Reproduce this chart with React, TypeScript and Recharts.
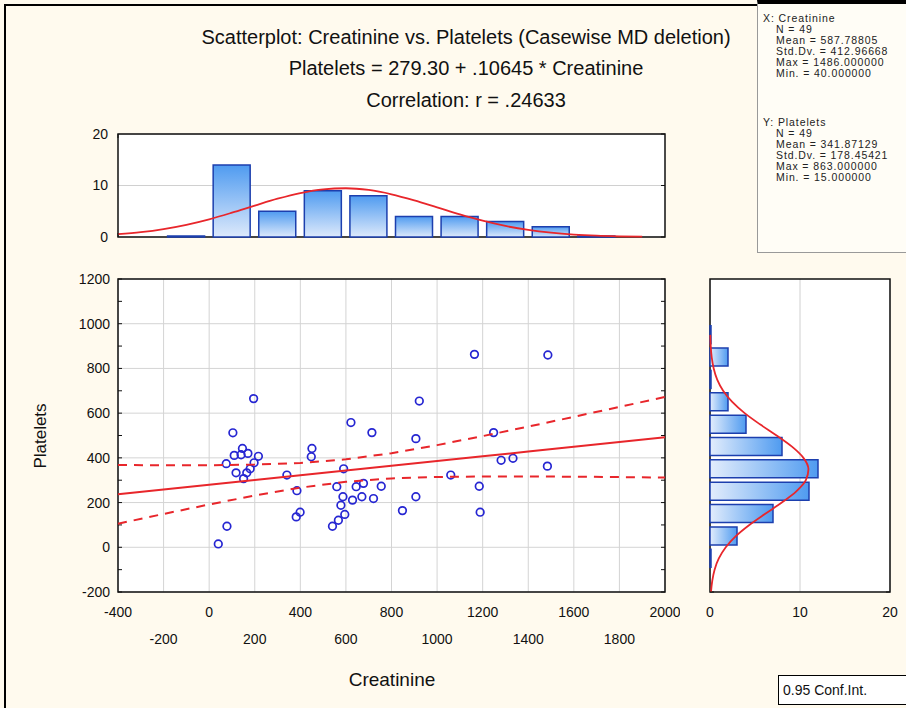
import React from "react";
import {
  ScatterChart,
  Scatter,
  ComposedChart,
  Bar,
  Line,
  XAxis,
  YAxis,
  CartesianGrid,
  ReferenceArea,
} from "recharts";

const FONT = '"Liberation Sans", Arial, sans-serif';

// scatter points (Creatinine, Platelets)
const creatinine = [
  40, 78, 75, 104, 110, 118, 140, 146, 151, 165, 170, 180, 197, 195, 216, 341,
  385, 382, 399, 451, 448, 560, 587, 578, 567, 541, 590, 595, 622, 714, 645,
  677, 755, 629, 670, 721, 922, 907, 907, 848, 1060, 1164, 1185, 1189, 1248,
  1281, 1333, 1486, 1484,
];
const platelets = [
  15, 94, 374, 512, 411, 333, 414, 442, 307, 333, 420, 351, 378, 665, 407, 323,
  253, 136, 157, 442, 405, 271, 226, 188, 121, 94, 351, 147, 558, 513, 271, 286,
  273, 211, 226, 218, 654, 486, 226, 164, 323, 863, 273, 157, 513, 389, 398,
  860, 363,
];

// regression line and 0.95 confidence band
const fitX = [-400, -200, 0, 200, 400, 600, 800, 1000, 1200, 1400, 1600, 1800, 2000];
const fitLine = [236.7, 258.0, 279.3, 300.6, 321.9, 343.2, 364.5, 385.8, 407.0, 428.3, 449.6, 470.9, 492.2];
const upperBand = [367.9, 366.9, 367.1, 369.8, 377.1, 393.3, 421.0, 457.0, 497.3, 539.8, 583.5, 627.8, 672.6];
const lowerBand = [105.5, 149.1, 191.5, 231.4, 266.7, 293.1, 308.0, 314.6, 316.7, 316.8, 315.7, 314.0, 311.8];

// top histogram (Creatinine)
const creatBins = [-100, 100, 300, 500, 700, 900, 1100, 1300, 1500, 1700];
const creatCounts = [0, 14, 5, 9, 8, 4, 4, 3, 2, 0];
const creatCurveX = [
  -400, -300, -200, -100, 0, 100, 200, 300, 400, 500, 600, 700, 800, 900, 1000,
  1100, 1200, 1300, 1400, 1500, 1600, 1700, 1800, 1900,
];
const creatCurve = [
  0.54, 0.94, 1.54, 2.37, 3.44, 4.72, 6.09, 7.43, 8.54, 9.26, 9.47, 9.13, 8.3,
  7.12, 5.76, 4.39, 3.16, 2.14, 1.37, 0.83, 0.47, 0.25, 0.13, 0.06,
];

// right histogram (Platelets)
const platBins = [-50, 50, 150, 250, 350, 450, 550, 650, 750, 850, 950];
const platCounts = [0, 3, 7, 11, 12, 8, 4, 2, 0, 2, 0];
const platCurveY = [
  -200, -150, -100, -50, 0, 50, 100, 150, 200, 250, 300, 350, 400, 450, 500,
  550, 600, 650, 700, 750, 800, 850, 900, 950,
];
const platCurve = [
  0.11, 0.25, 0.51, 0.98, 1.75, 2.87, 4.37, 6.14, 7.98, 9.59, 10.65, 10.94,
  10.38, 9.11, 7.4, 5.55, 3.85, 2.47, 1.46, 0.8, 0.41, 0.19, 0.08, 0.03,
];

const xTicks = [-400, -200, 0, 200, 400, 600, 800, 1000, 1200, 1400, 1600, 1800, 2000];
const yTicks = [-200, 0, 200, 400, 600, 800, 1000, 1200];
const yMinorTicks = [-200, -100, 0, 100, 200, 300, 400, 500, 600, 700, 800, 900, 1000, 1100, 1200];

const points = creatinine.map((x, i) => ({ x, y: platelets[i] }));
const fitRows = fitX.map((x, i) => ({ x, y: fitLine[i] }));
const upperRows = fitX.map((x, i) => ({ x, y: upperBand[i] }));
const lowerRows = fitX.map((x, i) => ({ x, y: lowerBand[i] }));

const topBars = creatBins.map((x, i) => ({ x, count: creatCounts[i] }));
const topCurve = creatCurveX.map((x, i) => ({ x, curve: creatCurve[i] }));
const rightBars = platBins.map((y, i) => ({ y, count: platCounts[i] }));
const rightCurve = platCurveY.map((y, i) => ({ y, curve: platCurve[i] }));

const RED = "#e8262b";
const BLUE_EDGE = "#1c3fae";

const XTick = (props: any) => {
  const { x, y, payload } = props;
  const row = Math.round((payload.value + 400) / 200) % 2;
  return (
    <text x={x} y={y + (row ? 44 : 17)} textAnchor="middle" fontSize={14} fill="#111" fontFamily={FONT}>
      {payload.value}
    </text>
  );
};

const HistXTick = (props: any) => {
  const { x, y, payload } = props;
  return (
    <text x={x} y={y + 17} textAnchor="middle" fontSize={14} fill="#111" fontFamily={FONT}>
      {payload.value}
    </text>
  );
};

const Dot = (props: any) => (
  <circle cx={props.cx} cy={props.cy} r={3.8} fill="none" stroke="#2626d2" strokeWidth={1.7} />
);
const NoDot = () => <g />;
const Blank = () => <g />;

// inward tick marks only (no labels)
const markProps = {
  mirror: true,
  tick: <Blank />,
  tickLine: { stroke: "#111", strokeWidth: 1 },
  tickSize: 4,
  axisLine: false,
  stroke: "#111",
  interval: 0 as const,
  allowDataOverflow: true,
};

const statLine = (text: string, top: number, left: number) => (
  <div
    style={{
      position: "absolute",
      left,
      top,
      whiteSpace: "nowrap",
      fontSize: 10.5,
      lineHeight: "10.5px",
      letterSpacing: 0.9,
    }}
  >
    {text}
  </div>
);

const titleStyle: React.CSSProperties = {
  position: "absolute",
  left: 0,
  width: 932,
  textAlign: "center",
  fontSize: 20,
  lineHeight: "22px",
};

export default function App() {
  return (
    <div
      style={{
        position: "relative",
        width: 906,
        height: 708,
        background: "#fffaee",
        overflow: "hidden",
        fontFamily: FONT,
        color: "#111",
      }}
    >
      <style>{`body{margin:0}`}</style>
      <div style={{ position: "absolute", left: 4, top: 4, width: 960, height: 760, borderLeft: "2px solid #000", borderTop: "2px solid #000" }} />

      <div style={{ ...titleStyle, top: 26 }}>Scatterplot: Creatinine vs. Platelets (Casewise MD deletion)</div>
      <div style={{ ...titleStyle, top: 57 }}>Platelets = 279.30 + .10645 * Creatinine</div>
      <div style={{ ...titleStyle, top: 89 }}>Correlation: r = .24633</div>

      <div
        style={{
          position: "absolute",
          left: 757,
          top: 0,
          width: 160,
          height: 248,
          background: "#fffdf6",
          borderTop: "4px solid #000",
          borderLeft: "1px solid #999",
          borderBottom: "1px solid #999",
          overflow: "hidden",
          color: "#222",
        }}
      >
        {statLine("X:  Creatinine", 9, 5)}
        {statLine("N = 49", 20, 18)}
        {statLine("Mean = 587.78805", 31, 18)}
        {statLine("Std.Dv. = 412.96668", 42, 18)}
        {statLine("Max = 1486.000000", 53, 18)}
        {statLine("Min. = 40.000000", 64, 18)}
        {statLine("Y:  Platelets", 113, 5)}
        {statLine("N = 49", 124, 18)}
        {statLine("Mean = 341.87129", 135, 18)}
        {statLine("Std.Dv. = 178.45421", 146, 18)}
        {statLine("Max = 863.000000", 157, 18)}
        {statLine("Min. = 15.000000", 168, 18)}
      </div>

      {/* top histogram */}
      <div style={{ position: "absolute", left: 0, top: 120 }}>
        <ComposedChart width={680} height={130} data={topBars} margin={{ top: 14, right: 15, bottom: 13, left: 30 }}>
          <defs>
            <linearGradient id="gTop" x1="0" y1="0" x2="0" y2="1">
              <stop offset="0%" stopColor="#4f9bf0" />
              <stop offset="100%" stopColor="#dde9fb" />
            </linearGradient>
          </defs>
          <CartesianGrid vertical={false} stroke="#d0d0d0" fill="#fff" />
          <XAxis type="number" dataKey="x" domain={[-400, 2000]} ticks={xTicks} hide />
          <XAxis xAxisId="c" type="number" dataKey="x" domain={[-400, 2000]} allowDataOverflow hide />
          <XAxis xAxisId="t" orientation="top" type="number" domain={[-400, 2000]} ticks={xTicks} {...markProps} />
          <XAxis xAxisId="b" orientation="bottom" type="number" domain={[-400, 2000]} ticks={xTicks} {...markProps} />
          <YAxis
            type="number"
            domain={[0, 20]}
            ticks={[0, 10, 20]}
            width={88}
            tickLine={false}
            axisLine={false}
            tickSize={4}
            tickMargin={6}
            tick={{ fontSize: 14, fill: "#111", fontFamily: FONT }}
          />
          <YAxis yAxisId="r" orientation="right" type="number" domain={[0, 20]} ticks={[0, 10, 20]} {...markProps} />
          <Bar dataKey="count" barSize={37} fill="url(#gTop)" stroke={BLUE_EDGE} strokeWidth={1.5} minPointSize={1} isAnimationActive={false} />
          <Line xAxisId="c" data={topCurve} dataKey="curve" type="monotone" stroke={RED} strokeWidth={1.8} dot={false} isAnimationActive={false} />
          <ReferenceArea x1={-400} x2={2000} y1={0} y2={20} fill="none" stroke="#111" strokeWidth={1.5} ifOverflow="visible" />
        </ComposedChart>
      </div>

      {/* scatterplot */}
      <div style={{ position: "absolute", left: 0, top: 250 }}>
        <ScatterChart width={680} height={458} margin={{ top: 29, right: 15, bottom: 16, left: 30 }}>
          <CartesianGrid stroke="#d4d4d4" fill="#fff" />
          <XAxis
            type="number"
            dataKey="x"
            domain={[-400, 2000]}
            ticks={xTicks}
            interval={0}
            height={100}
            tickLine={false}
            axisLine={false}
            tickSize={4}
            tickMargin={4}
            tick={<XTick />}
            label={{
              content: () => (
                <text x={392} y={436} textAnchor="middle" fontSize={19} fill="#111" fontFamily={FONT}>
                  Creatinine
                </text>
              ),
            }}
          />
          <XAxis xAxisId="t" orientation="top" type="number" domain={[-400, 2000]} ticks={xTicks} {...markProps} />
          <YAxis
            type="number"
            dataKey="y"
            domain={[-200, 1200]}
            ticks={yTicks}
            interval={0}
            width={88}
            tickLine={false}
            axisLine={false}
            tickSize={4}
            tickMargin={4}
            tick={{ fontSize: 14, fill: "#111", fontFamily: FONT }}
            label={{
              content: () => (
                <text
                  x={46}
                  y={186}
                  transform="rotate(-90 46 186)"
                  textAnchor="middle"
                  fontSize={17}
                  fill="#111"
                  fontFamily={FONT}
                >
                  Platelets
                </text>
              ),
            }}
          />
          <YAxis yAxisId="l" orientation="left" type="number" domain={[-200, 1200]} ticks={yMinorTicks} {...markProps} />
          <YAxis yAxisId="r" orientation="right" type="number" domain={[-200, 1200]} ticks={yMinorTicks} {...markProps} />
          <Scatter data={points} shape={<Dot />} isAnimationActive={false} />
          <Scatter data={upperRows} shape={<NoDot />} line={{ stroke: RED, strokeWidth: 2, strokeDasharray: "9 7" }} isAnimationActive={false} />
          <Scatter data={lowerRows} shape={<NoDot />} line={{ stroke: RED, strokeWidth: 2, strokeDasharray: "9 7" }} isAnimationActive={false} />
          <Scatter data={fitRows} shape={<NoDot />} line={{ stroke: RED, strokeWidth: 2 }} isAnimationActive={false} />
          <ReferenceArea x1={-400} x2={2000} y1={-200} y2={1200} fill="none" stroke="#111" strokeWidth={1.5} ifOverflow="visible" />
        </ScatterChart>
      </div>

      {/* right histogram */}
      <div style={{ position: "absolute", left: 690, top: 250 }}>
        <ComposedChart width={216} height={458} layout="vertical" data={rightBars} margin={{ top: 29, right: 16, bottom: 16, left: 20 }}>
          <defs>
            <linearGradient id="gRight" x1="0" y1="0" x2="1" y2="0">
              <stop offset="0%" stopColor="#e3edfc" />
              <stop offset="100%" stopColor="#4f9bf0" />
            </linearGradient>
          </defs>
          <CartesianGrid horizontal={false} stroke="#d0d0d0" fill="#fff" />
          <XAxis
            type="number"
            domain={[0, 20]}
            ticks={[0, 10, 20]}
            interval={0}
            height={100}
            tickLine={false}
            axisLine={false}
            tickSize={4}
            tickMargin={4}
            tick={<HistXTick />}
          />
          <YAxis type="number" dataKey="y" domain={[-200, 1200]} reversed hide />
          <YAxis yAxisId="c" type="number" dataKey="y" domain={[-200, 1200]} reversed allowDataOverflow hide />
          <YAxis yAxisId="l" orientation="left" type="number" domain={[-200, 1200]} ticks={yTicks} reversed {...markProps} />
          <YAxis yAxisId="r" orientation="right" type="number" domain={[-200, 1200]} ticks={yTicks} reversed {...markProps} />
          <Bar dataKey="count" barSize={18} fill="url(#gRight)" stroke={BLUE_EDGE} strokeWidth={1.5} minPointSize={1} isAnimationActive={false} />
          <Line yAxisId="c" data={rightCurve} dataKey="curve" type="monotone" stroke={RED} strokeWidth={1.8} dot={false} isAnimationActive={false} />
          <ReferenceArea x1={0} x2={20} y1={-200} y2={1200} fill="none" stroke="#111" strokeWidth={1.5} ifOverflow="visible" />
        </ComposedChart>
      </div>

      <div
        style={{
          position: "absolute",
          left: 778,
          top: 675,
          width: 140,
          height: 28,
          border: "1.5px solid #000",
          background: "#fff",
          fontSize: 14,
          lineHeight: "28px",
          paddingLeft: 4,
        }}
      >
        0.95 Conf.Int.
      </div>
    </div>
  );
}
